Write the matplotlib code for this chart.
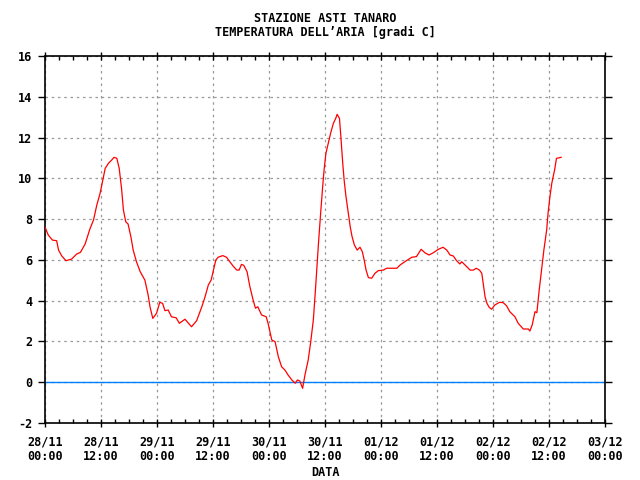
import matplotlib
matplotlib.use("Agg")
import matplotlib.pyplot as plt
from matplotlib.ticker import MultipleLocator

hours = [0.0, 0.7, 1.6, 2.5, 2.9, 3.6, 4.5, 5.7, 6.8, 7.6, 8.6, 9.6, 10.4, 11.1, 11.8,
         12.4, 12.9, 13.6, 14.3, 14.8, 15.4, 15.9, 16.4, 16.8, 17.3, 17.8, 18.4, 18.9,
         19.6, 20.4, 21.4, 22.1, 22.5, 23.1, 23.9, 24.6, 25.2, 25.7, 26.4, 27.1, 28.1,
         28.8, 30.0, 31.4, 32.5, 33.6, 34.3, 35.0, 35.6, 36.1, 36.6, 37.1, 38.1, 38.9,
         39.6, 40.3, 41.1, 41.6, 42.1, 42.6, 43.3, 43.9, 44.6, 45.1, 45.6, 46.4, 47.4,
         47.8, 48.6, 49.3, 50.0, 50.7, 51.4, 52.1, 52.9, 53.6, 54.1, 54.6, 55.2, 55.7,
         56.4, 56.9, 57.5, 58.0, 58.6, 59.1, 59.5, 59.8, 60.2, 60.7, 61.2, 61.8, 62.3,
         62.6, 63.1, 63.4, 63.8, 64.1, 64.5, 65.0, 65.4, 65.8, 66.3, 66.9, 67.5, 68.0,
         68.4, 68.8, 69.3, 70.0, 70.7, 71.4, 72.5, 73.2, 75.4, 76.1, 77.1, 78.6, 79.6,
         80.6, 81.4, 82.3, 83.2, 84.3, 85.3, 86.1, 86.8, 87.5, 88.2, 88.9, 89.3, 90.0,
         91.1, 91.8, 92.4, 93.1, 93.6, 93.9, 94.3, 94.7, 95.2, 95.7, 96.4, 97.4, 98.2,
         98.9, 99.6, 100.7, 101.4, 102.5, 103.6, 103.9, 104.4, 105.0, 105.4, 105.9,
         106.4, 106.9, 107.5, 107.8, 108.2, 108.6, 109.2, 109.6, 110.6]

temps = [7.6, 7.22, 6.97, 6.94, 6.48, 6.19, 5.96, 6.04, 6.29, 6.37, 6.78, 7.5, 7.96, 8.69,
         9.26, 9.92, 10.49, 10.74, 10.9, 11.03, 10.98, 10.49, 9.51, 8.45, 7.87, 7.76, 7.14,
         6.48, 5.91, 5.42, 5.01, 4.28, 3.70, 3.13, 3.38, 3.92, 3.87, 3.51, 3.54, 3.21, 3.16,
         2.89, 3.09, 2.72, 3.02, 3.70, 4.19, 4.77, 5.01, 5.50, 5.99, 6.13, 6.21, 6.13, 5.91,
         5.70, 5.50, 5.50, 5.78, 5.73, 5.42, 4.69, 4.03, 3.63, 3.70, 3.30, 3.21, 2.89, 2.07,
         1.99, 1.25, 0.76, 0.60, 0.35, 0.11, -0.05, 0.11, 0.06, -0.30, 0.35, 1.09, 1.91,
         3.05, 4.69, 6.81, 8.4, 9.59, 10.41, 11.23, 11.72, 12.21, 12.70, 12.94,
         13.14, 12.94, 12.04, 10.74, 9.92, 9.10, 8.29, 7.63, 7.14, 6.73, 6.48, 6.62, 6.40,
         5.99, 5.50, 5.13, 5.10, 5.34, 5.47, 5.50, 5.59, 5.59, 5.75, 5.91, 6.13, 6.16,
         6.52, 6.35, 6.24, 6.35, 6.52, 6.62, 6.48, 6.24, 6.19, 5.96, 5.80, 5.91, 5.75,
         5.50, 5.50, 5.59, 5.50, 5.34, 4.85, 4.19, 3.87, 3.67, 3.58, 3.79, 3.92, 3.90,
         3.75, 3.46, 3.21, 2.89, 2.61, 2.61, 2.51, 2.81, 3.46, 3.41, 4.52, 5.50, 6.48,
         7.47, 8.29, 9.10, 9.76, 10.41, 10.98, 11.03]

xtick_labels = ["28/11\n00:00", "28/11\n12:00", "29/11\n00:00", "29/11\n12:00",
                "30/11\n00:00", "30/11\n12:00", "01/12\n00:00", "01/12\n12:00",
                "02/12\n00:00", "02/12\n12:00", "03/12\n00:00"]
yticks = [-2, 0, 2, 4, 6, 8, 10, 12, 14, 16]

FONT = dict(family="DejaVu Sans Mono", weight="bold", size=8.5)

fig = plt.figure(figsize=(6.4, 4.8), dpi=100)
ax = fig.add_axes([45/640, 57/480, 560/640, 367/480])

ax.plot(hours, temps, color="#ff0000", lw=0.9, zorder=3)
ax.axhline(0, color="#0080ff", lw=1.0, zorder=2)

ax.set_xlim(0, 120)
ax.set_ylim(-2, 16)
ax.set_xticks([12 * i for i in range(len(xtick_labels))])
ax.set_xticklabels(xtick_labels, **FONT)
ax.xaxis.set_minor_locator(MultipleLocator(3))
ax.set_yticks(yticks)
ax.set_yticklabels([str(v) for v in yticks], **FONT)

ax.tick_params(axis="x", which="major", direction="inout", length=6, width=1,
               top=True, bottom=True, pad=6, color="black")
ax.tick_params(axis="x", which="minor", direction="in", length=3, width=1,
               top=True, bottom=True, color="black")
ax.tick_params(axis="y", which="major", direction="out", length=5, width=1,
               left=True, right=True, pad=4, color="black")

ax.grid(True, which="major", color="#999999", linestyle=(0, (2, 3)), lw=0.9)
for s in ax.spines.values():
    s.set_linewidth(1.2)
    s.set_color("black")

fig.text(325/640, 1 - 18/480, "STAZIONE ASTI TANARO", ha="center", va="center", **FONT)
fig.text(325/640, 1 - 32/480, "TEMPERATURA DELL\u2019ARIA [gradi C]", ha="center",
         va="center", **FONT)
fig.text(325/640, 1 - 472/480, "DATA", ha="center", va="center", **FONT)

fig.savefig("out.png", dpi=100)
